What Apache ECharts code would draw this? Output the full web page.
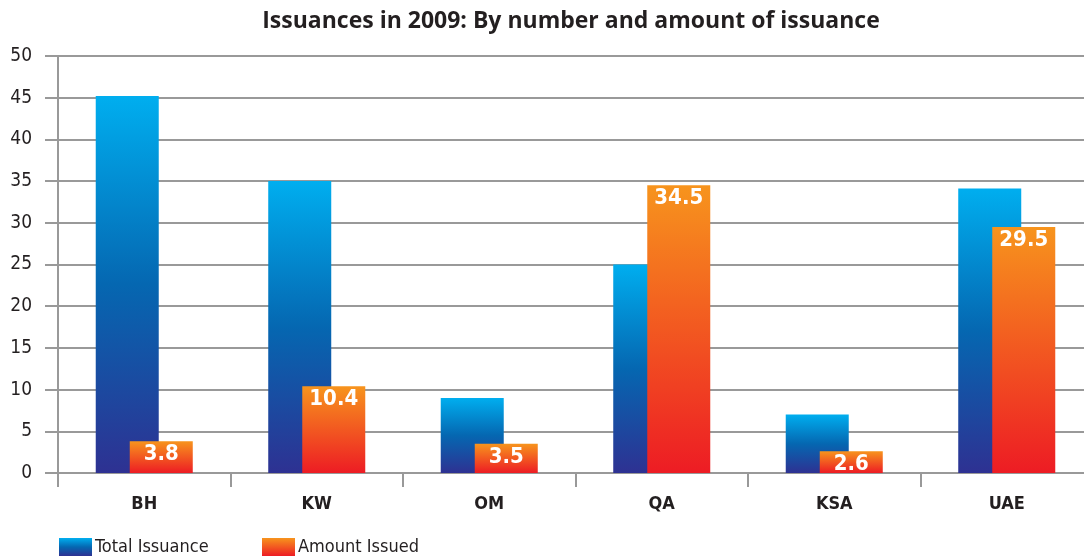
<!DOCTYPE html>
<html><head><meta charset="utf-8">
<script src="https://cdn.jsdelivr.net/npm/echarts@6/dist/echarts.min.js"></script>
<style>html,body{margin:0;padding:0;background:#fff;overflow:hidden}#c{width:1093px;height:560px}</style>
</head><body><div id="c"></div>
<script>
const categories = ['BH', 'KW', 'OM', 'QA', 'KSA', 'UAE'];
const totalIssuance = [45.2, 35, 9, 25, 7, 34.1];
const amountIssued = [3.8, 10.4, 3.5, 34.5, 2.6, 29.5];
const yTicks = [0, 5, 10, 15, 20, 25, 30, 35, 40, 45, 50];

const blueGrad = new echarts.graphic.LinearGradient(0, 0, 0, 1, [
  {offset: 0, color: '#00aeef'}, {offset: 0.5, color: '#0567b1'}, {offset: 1, color: '#2e3192'}]);
const orangeGrad = new echarts.graphic.LinearGradient(0, 0, 0, 1, [
  {offset: 0, color: '#f7941d'}, {offset: 1, color: '#ed1c24'}]);
const narrow = '"Liberation Sans Narrow", "DejaVu Sans Condensed", sans-serif';

const chart = echarts.init(document.getElementById('c'), null, {renderer: 'canvas'});
chart.setOption({
  animation: false,
  title: {
    text: 'Issuances in 2009: By number and amount of issuance',
    left: 566, top: 5, textAlign: 'center',
    textStyle: {fontFamily: '"Open Sans", sans-serif', fontWeight: 'bold', fontSize: 23, color: '#231f20'}
  },
  legend: [
    {data: ['Total Issuance'], left: 59, top: 538, padding: 0, itemWidth: 33, itemHeight: 18, itemGap: 0, icon: 'rect',
     textStyle: {fontFamily: narrow, fontSize: 18, color: '#231f20', padding: [0, 0, 0, -2]}},
    {data: ['Amount Issued'], left: 262, top: 538, padding: 0, itemWidth: 33, itemHeight: 18, itemGap: 0, icon: 'rect',
     textStyle: {fontFamily: narrow, fontSize: 18, color: '#231f20', padding: [0, 0, 0, -2]}}
  ],
  grid: {left: 58, right: 0, top: 56, bottom: 87, containLabel: false},
  xAxis: {
    type: 'category', data: categories,
    axisLine: {show: true, lineStyle: {color: '#999', width: 2}},
    axisTick: {show: true, length: 14, alignWithLabel: false, lineStyle: {color: '#999', width: 2}},
    axisLabel: {margin: 22, fontFamily: narrow, fontWeight: 'bold', fontSize: 18, color: '#231f20'}
  },
  yAxis: {
    type: 'value', min: yTicks[0], max: yTicks[yTicks.length - 1], interval: 5,
    axisLine: {show: true, lineStyle: {color: '#999', width: 2}},
    axisTick: {show: true, length: 13, lineStyle: {color: '#999', width: 2}},
    splitLine: {show: true, lineStyle: {color: '#999', width: 2}},
    axisLabel: {margin: 26, fontFamily: narrow, fontSize: 19, color: '#231f20'}
  },
  series: [
    {name: 'Total Issuance', type: 'bar', data: totalIssuance, barWidth: 63, barGap: '-46%',
     itemStyle: {color: blueGrad}},
    {name: 'Amount Issued', type: 'bar', data: amountIssued, barWidth: 63,
     itemStyle: {color: orangeGrad},
     label: {show: true, position: 'insideTop', distance: 2, color: '#fff', fontFamily: narrow,
             fontWeight: 'bold', fontSize: 22}}
  ]
});
</script></body></html>
